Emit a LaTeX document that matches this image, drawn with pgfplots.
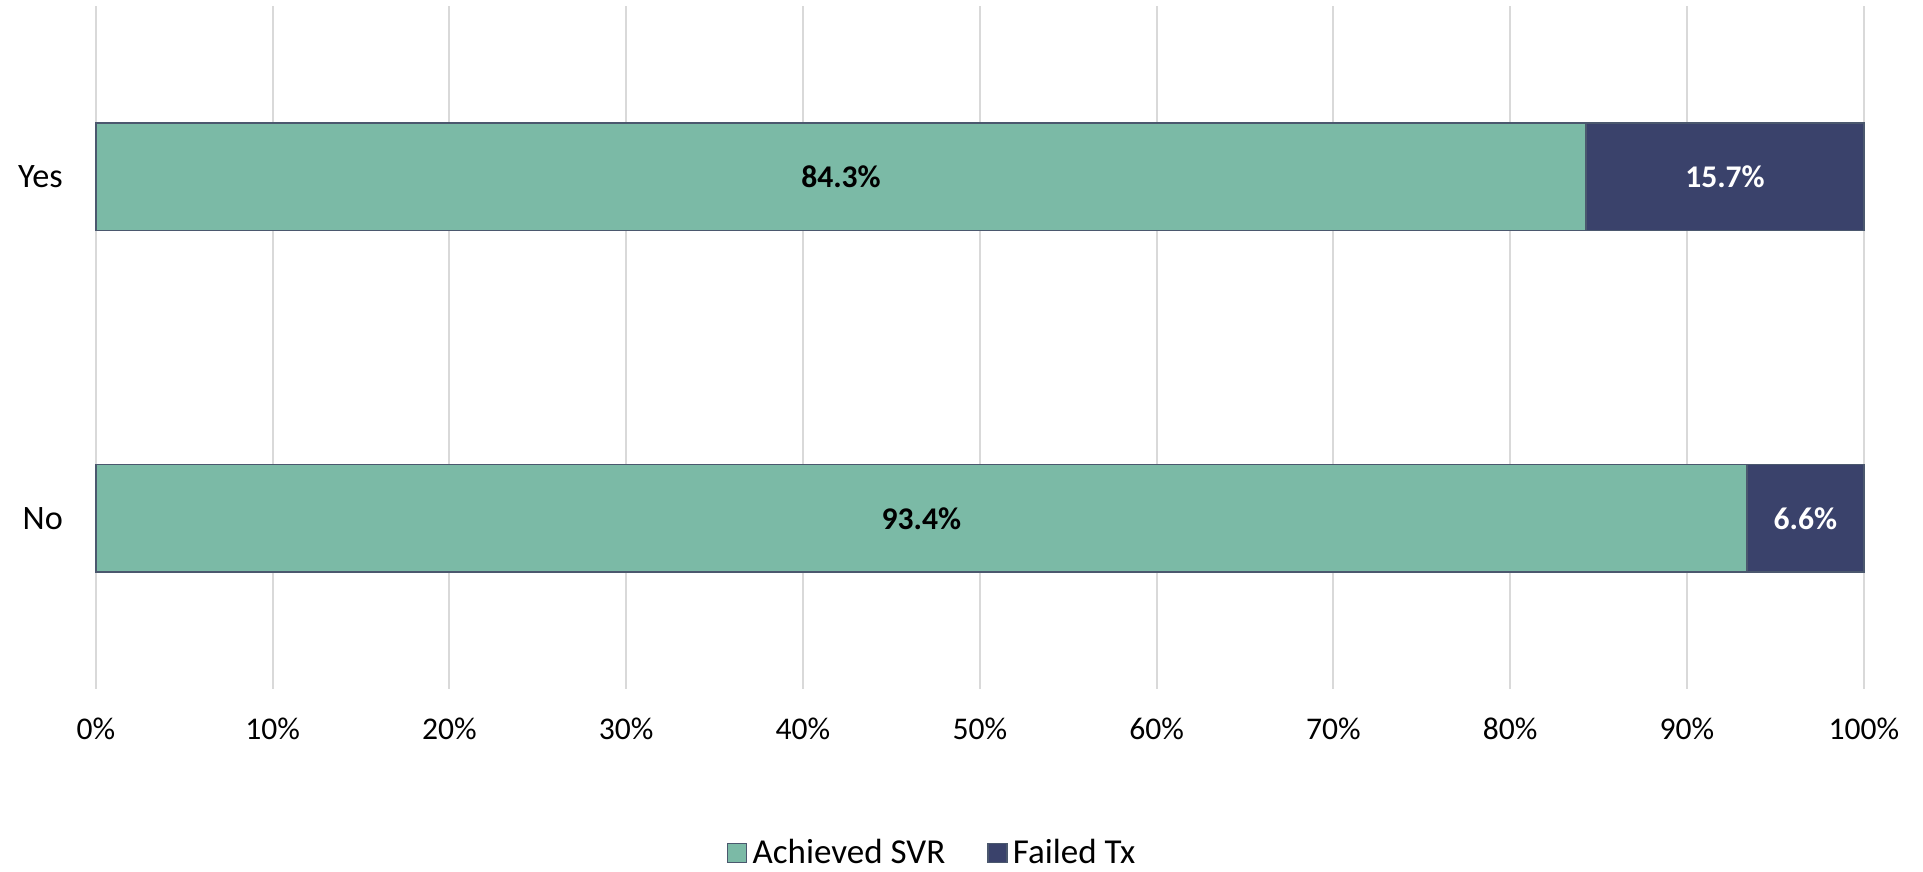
\documentclass[border=0pt]{standalone}
\usepackage{pgfplots}
\pgfplotsset{compat=1.18}
\usepackage{fontspec}
\setmainfont{Carlito}
\definecolor{cgreen}{RGB}{123,186,166}
\definecolor{cnavy}{RGB}{58,66,107}
\definecolor{cedge}{RGB}{75,88,110}
\definecolor{cgrid}{RGB}{217,217,217}
\begin{document}
\begin{tikzpicture}
\begin{axis}[
  at={(0,0)}, anchor=south west,
  scale only axis,
  width=671.8pt, height=259.5pt,
  xmin=0, xmax=100, ymin=-0.5, ymax=1.5,
  xtick={0,10,...,100},
  xticklabels={0\%,10\%,20\%,30\%,40\%,50\%,60\%,70\%,80\%,90\%,100\%},
  ytick={0,1}, yticklabels={No,Yes},
  xmajorgrids, major grid style={cgrid, line width=0.8pt},
  axis line style={draw=none},
  major tick length=0pt,
  tick label style={font=\fontsize{12}{14}\selectfont, text=black},
  xticklabel style={yshift=-7.4pt},
  yticklabel style={xshift=-9pt, font=\fontsize{13}{15}\selectfont},
  legend style={at={(0.474,0)}, anchor=center, yshift=-62.3pt, draw=none,
    legend columns=-1, font=\fontsize{13.3}{15}\selectfont,
    /tikz/every even column/.append style={column sep=14pt}},
  legend cell align=left,
  clip=false,
]
% full bars (Failed Tx background)
\addplot[xbar, bar width=40.7pt, bar shift=0pt, fill=cnavy, draw=cedge, line width=0.6pt, forget plot]
  coordinates {(100,1) (100,0)};
% Achieved SVR
\addplot[xbar, bar width=40.7pt, bar shift=0pt, fill=cgreen, draw=cedge, line width=0.6pt, forget plot]
  coordinates {(84.3,1) (93.4,0)};
% labels
\addplot[draw=none, mark=none, forget plot, nodes near coords, point meta=explicit symbolic,
  nodes near coords align=center,
  every node near coord/.style={font=\fontsize{12}{14}\selectfont\bfseries, text=black, anchor=center}]
  coordinates {(42.15,1) [84.3\%] (46.7,0) [93.4\%]};
\addplot[draw=none, mark=none, forget plot, nodes near coords, point meta=explicit symbolic,
  nodes near coords align=center,
  every node near coord/.style={font=\fontsize{12}{14}\selectfont\bfseries, text=white, anchor=center}]
  coordinates {(92.15,1) [15.7\%] (96.7,0) [6.6\%]};
\addlegendimage{legend image code/.code={\draw[fill=cgreen, draw=cedge, line width=0.5pt] (0pt,-3.6pt) rectangle (7.2pt,3.6pt);}}
\addlegendentry{Achieved SVR}
\addlegendimage{legend image code/.code={\draw[fill=cnavy, draw=cedge, line width=0.5pt] (0pt,-3.6pt) rectangle (7.2pt,3.6pt);}}
\addlegendentry{Failed Tx}
\end{axis}
\pgfresetboundingbox
\path[use as bounding box] (-36.4pt,-69.2pt) rectangle (694.3pt,261.8pt);
\end{tikzpicture}
\end{document}
